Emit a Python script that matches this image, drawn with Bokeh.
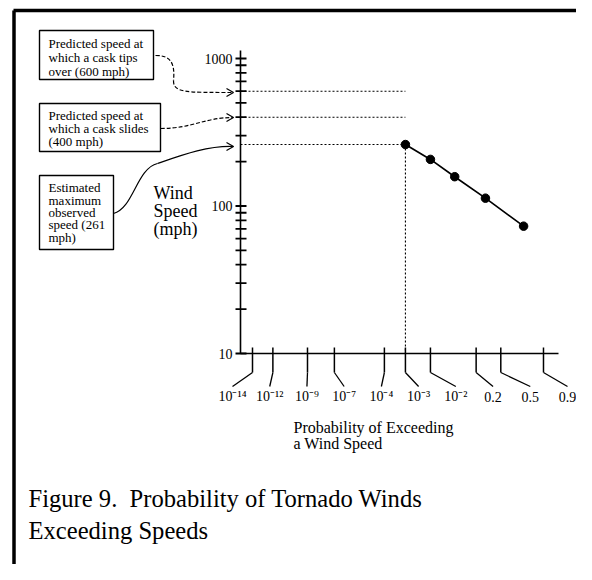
import numpy as np
from bokeh.plotting import figure
from bokeh.models import Range1d, LinearScale
from bokeh.embed import file_html
from bokeh.resources import INLINE
from bokeh.core.properties import value

# ---------------- data ----------------
exceed_prob = [1e-3, 1e-2, 0.06, 0.3, 0.77]
wind_speed = [261, 207, 158, 113, 73]
cask_speeds = [600, 400]          # predicted tip-over / slide speeds
max_observed = 261                # estimated maximum observed speed
tick_probs = [1e-14, 1e-12, 1e-9, 1e-7, 1e-4, 1e-3, 1e-2, 0.2, 0.5, 0.9]
tick_labels = ["10⁻¹⁴", "10⁻¹²", "10⁻⁹", "10⁻⁷", "10⁻⁴", "10⁻³", "10⁻²", "0.2", "0.5", "0.9"]
y_major = [10, 100, 1000]
y_major_labels = ["10", "100", "1000"]

# ---------------- layout ----------------
W, H = 576, 564
FONT = value("Liberation Serif")


def prob_scale(pr):
    pr = np.asarray(pr, dtype=float)
    return (-np.log(-np.log1p(-pr)) + 1.3) ** 0.4


PXU = 87.15          # pixels per unit of the probability scale
AXIS_X = 240         # y axis position (px)
FIRST_TICK_PX = 252
t0 = float(prob_scale(tick_probs[0]))
x_start = t0 + FIRST_TICK_PX / PXU
x_end = x_start - W / PXU

DEC = 147.5          # pixels per decade
Y10_PX = 353         # px (from top) of 10 mph
y_start = 10 ** (1 - (H - Y10_PX) / DEC)
y_end = 10 ** (1 + Y10_PX / DEC)


def to_px(t):
    return (x_start - np.asarray(t, dtype=float)) * PXU


p = figure(width=W, height=H, x_range=Range1d(x_start, x_end),
           y_range=Range1d(y_start, y_end), y_axis_type="log",
           output_backend="svg", toolbar_location=None, min_border=0,
           x_axis_location=None, y_axis_location=None)
p.grid.visible = False
p.outline_line_color = None
p.background_fill_color = "white"
p.extra_x_ranges = {"px": Range1d(0, W)}
p.extra_y_ranges = {"px": Range1d(H, 0)}
p.extra_x_scales = {"px": LinearScale()}
p.extra_y_scales = {"px": LinearScale()}

BLK = "black"

# frame border (top & left)
p.segment(x0=[13, 13.5], y0=[10, 10], x1=[W, 13.5], y1=[10, H], line_color=BLK,
          line_width=3.5, x_range_name="px", y_range_name="px")

# ---------------- y axis ----------------
y_top = 10 ** (3 + 8 / DEC)
p.segment(x0=[AXIS_X], y0=[y_major[0]], x1=[AXIS_X], y1=[y_top],
          line_color=BLK, line_width=1.6, x_range_name="px")
y_minor = [k * d for d in (10, 100) for k in range(2, 10)]
y_ticks = y_major + y_minor
p.segment(x0=[AXIS_X - 5] * len(y_ticks), y0=y_ticks,
          x1=[AXIS_X + 6] * len(y_ticks), y1=y_ticks,
          line_color=BLK, line_width=1.8, x_range_name="px")
p.text(x=[AXIS_X - 8] * 3, y=y_major, text=y_major_labels, text_font=FONT,
       text_font_size="14px", text_align="right", text_baseline="middle",
       text_color=BLK, x_range_name="px")

# ---------------- x axis ----------------
p.segment(x0=[AXIS_X], y0=[y_major[0]], x1=[558], y1=[y_major[0]],
          line_color=BLK, line_width=1.6, x_range_name="px")
tick_t = prob_scale(tick_probs)
tick_px = to_px(tick_t)
label_px = np.linspace(232, 567, len(tick_probs))
p.segment(x0=tick_t, y0=[347] * len(tick_t), x1=tick_t, y1=[372] * len(tick_t),
          line_color=BLK, line_width=1.5, y_range_name="px")
p.segment(x0=tick_px, y0=[372] * len(tick_t), x1=label_px, y1=[386] * len(tick_t),
          line_color=BLK, line_width=1.3, x_range_name="px", y_range_name="px")
p.text(x=label_px, y=[396] * len(tick_t), text=tick_labels, text_font=FONT,
       text_font_size="14px", text_align="center", text_baseline="middle",
       text_color=BLK, x_range_name="px", y_range_name="px")

# axis titles
p.text(x=[293, 293], y=[427, 443], text=["Probability of Exceeding", "a Wind Speed"],
       text_font=FONT, text_font_size="16px", text_baseline="middle",
       text_color=BLK, x_range_name="px", y_range_name="px")
p.text(x=[153, 153, 153], y=[192, 210, 228], text=["Wind", "Speed", "(mph)"],
       text_font=FONT, text_font_size="18px", text_baseline="middle",
       text_color=BLK, x_range_name="px", y_range_name="px")

# ---------------- reference lines ----------------
axis_t = x_start - AXIS_X / PXU
first_t = float(prob_scale(exceed_prob[0]))
ref_y = cask_speeds + [max_observed]
p.segment(x0=[axis_t] * 3, y0=ref_y, x1=[first_t] * 3, y1=ref_y,
          line_color=BLK, line_width=1.1, line_dash="2 2")
p.segment(x0=[first_t], y0=[max_observed], x1=[first_t], y1=[y_major[0]],
          line_color=BLK, line_width=1.1, line_dash="2 2")

# ---------------- data ----------------
xt = prob_scale(exceed_prob)
p.line(xt, wind_speed, line_color=BLK, line_width=1.7)
p.scatter(xt, wind_speed, size=8.5, fill_color=BLK, line_color=BLK)

# ---------------- annotation boxes ----------------
p.quad(left=[39, 39, 39], right=[153, 160, 113], top=[30, 103, 175],
       bottom=[79, 151, 249], fill_color=None, line_color=BLK, line_width=1.4,
       x_range_name="px", y_range_name="px")
box_text = ["Predicted speed at", "which a cask tips", "over (600 mph)",
            "Predicted speed at", "which a cask slides", "(400 mph)",
            "Estimated", "maximum", "observed", "speed (261", "mph)"]
box_y = [43, 57, 71, 115, 128, 141, 187, 200, 212, 224, 237]
p.text(x=[48] * len(box_text), y=box_y, text=box_text, text_font=FONT,
       text_font_size="13px", text_baseline="middle", text_color=BLK,
       x_range_name="px", y_range_name="px")

# curved arrows
p.bezier(x0=[155, 173, 160], y0=[55, 80, 128], x1=[173, 233, 233], y1=[80, 92, 117],
         cx0=[168, 173, 193], cy0=[55, 92, 128], cx1=[175, 183, 203], cy1=[60, 92, 117],
         line_color=BLK, line_width=1.2, line_dash="4 2",
         x_range_name="px", y_range_name="px")
p.bezier(x0=[113, 157], y0=[213, 163], x1=[157, 233], y1=[163, 146],
         cx0=[133, 183], cy0=[208, 154], cx1=[136, 208], cy1=[168, 145],
         line_color=BLK, line_width=1.2, x_range_name="px", y_range_name="px")
heads_y = [92, 117, 146]
p.multi_line(xs=[[226, 233, 226] for _ in heads_y],
             ys=[[hy - 4, hy, hy + 4] for hy in heads_y],
             line_color=BLK, line_width=1.2, x_range_name="px", y_range_name="px")

# ---------------- caption ----------------
p.text(x=[28, 28], y=[498, 530],
       text=["Figure 9.\u00a0 Probability of Tornado Winds", "Exceeding Speeds"],
       text_font=FONT, text_font_size="24.6px", text_baseline="alphabetic",
       text_color=BLK, x_range_name="px", y_range_name="px")

open("out.html", "w").write(file_html(p, INLINE))
